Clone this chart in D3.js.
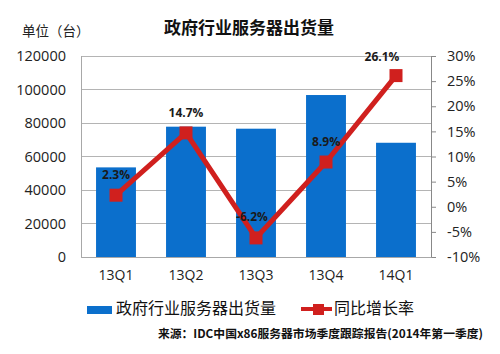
<!DOCTYPE html>
<html><head><meta charset="utf-8">
<script src="https://cdn.jsdelivr.net/npm/d3@7"></script>
<style>body{margin:0;background:#fff}svg{display:block}</style>
</head><body>
<svg id="c" width="500" height="354"></svg>
<script>
const categories = ["13Q1","13Q2","13Q3","13Q4","14Q1"];
const shipments = [53500, 77800, 76600, 96700, 68200];
const growth = [2.3, 14.7, -6.2, 8.9, 26.1];
const leftTicks = [0,20000,40000,60000,80000,100000,120000];
const rightTicks = [-10,-5,0,5,10,15,20,25,30];
const title = "政府行业服务器出货量";
const unitLabel = "单位（台）";
const legendBar = "政府行业服务器出货量";
const legendLine = "同比增长率";
const source = "来源：IDC中国x86服务器市场季度跟踪报告(2014年第一季度)";

const svg = d3.select("#c");
const L = 81, R = 431, T = 56, B = 257;
const cjk = "'Noto Sans CJK SC', sans-serif";
const num = "'Open Sans','Noto Sans', sans-serif";

const x = d3.scaleBand().domain(categories).range([L, R]).paddingInner(0.43).paddingOuter(0.215);
const y = d3.scaleLinear().domain([0,120000]).range([B, T]);
const y2 = d3.scaleLinear().domain([-10,30]).range([B, T]);

// gridlines
svg.append("g").selectAll("line").data(leftTicks).join("line")
  .attr("x1", L).attr("x2", R).attr("y1", d=>y(d)).attr("y2", d=>y(d))
  .attr("stroke", "#b4b4b4").attr("stroke-width", 1).attr("shape-rendering","crispEdges");

// left axis line
svg.append("line").attr("x1",L).attr("x2",L).attr("y1",T).attr("y2",B)
  .attr("stroke","#a8a8a8").attr("shape-rendering","crispEdges");

// bars
svg.append("g").selectAll("rect").data(shipments).join("rect")
  .attr("x",(d,i)=>x(categories[i])).attr("width",x.bandwidth())
  .attr("y",d=>y(d)).attr("height",d=>B-y(d)).attr("fill","#0B6FCC");

// left axis labels
const ga = svg.append("g").attr("transform",`translate(${L},0)`)
  .call(d3.axisLeft(y).tickValues(leftTicks).tickSize(0).tickPadding(15).tickFormat(d3.format("d")));
ga.select(".domain").remove();
ga.selectAll("text").attr("font-family",num).attr("font-size",14.5).attr("fill","#222");

// right axis
const gr = svg.append("g").attr("transform",`translate(${R},0)`)
  .call(d3.axisRight(y2).tickValues(rightTicks).tickSize(5).tickPadding(11).tickFormat(d=>d+"%"));
gr.select(".domain").attr("stroke","#888");
gr.selectAll(".tick line").attr("stroke","#888");
gr.selectAll("text").attr("font-family",num).attr("font-size",14.5).attr("fill","#222");

// x axis
const gx = svg.append("g").attr("transform",`translate(0,${B})`)
  .call(d3.axisBottom(x).tickSize(0).tickPadding(13));
gx.select(".domain").attr("stroke","#a8a8a8");
gx.selectAll("text").attr("font-family",num).attr("font-size",14).attr("fill","#222");

// line
const cx = (d,i)=>x(categories[i])+x.bandwidth()/2;
svg.append("path").datum(growth)
  .attr("d", d3.line().x(cx).y(d=>y2(d)))
  .attr("fill","none").attr("stroke","#D0201E").attr("stroke-width",5);
svg.append("g").selectAll("rect").data(growth).join("rect")
  .attr("x",(d,i)=>cx(d,i)-6.5).attr("y",d=>y2(d)-6.5).attr("width",13).attr("height",13)
  .attr("fill","#D0201E");

// data labels
const lblDx = [0,0,-4,0,-14];
const lblDy = [-20,-20,-21,-20,-19];
svg.append("g").selectAll("text").data(growth).join("text")
  .attr("x",(d,i)=>cx(d,i)+lblDx[i]).attr("y",(d,i)=>y2(d)+lblDy[i]+4)
  .attr("text-anchor","middle").attr("font-family",num).attr("font-weight","bold")
  .attr("font-size",12).attr("fill","#1a1a1a").text(d=>d.toFixed(1)+"%");

// title & unit
svg.append("text").attr("x",249).attr("y",34).attr("text-anchor","middle")
  .attr("font-family",cjk).attr("font-weight","bold").attr("font-size",17).attr("fill","#111").text(title);
svg.append("text").attr("x",22).attr("y",36)
  .attr("font-family",cjk).attr("font-size",13.5).attr("fill","#222").text(unitLabel);

// legend
svg.append("rect").attr("x",87).attr("y",306).attr("width",25).attr("height",8).attr("fill","#0B6FCC");
svg.append("text").attr("x",116).attr("y",314).attr("font-family",cjk).attr("font-size",16).attr("fill","#111").text(legendBar);
svg.append("line").attr("x1",301).attr("x2",332).attr("y1",309).attr("y2",309).attr("stroke","#D0201E").attr("stroke-width",4);
svg.append("rect").attr("x",313).attr("y",304).attr("width",11).attr("height",11).attr("fill","#D0201E");
svg.append("text").attr("x",334).attr("y",314).attr("font-family",cjk).attr("font-size",16).attr("fill","#111").text(legendLine);

// source
svg.append("text").attr("x",483).attr("y",338).attr("text-anchor","end")
  .attr("font-family",cjk).attr("font-weight","bold").attr("font-size",11.8).attr("fill","#111").text(source);
</script>
</body></html>
